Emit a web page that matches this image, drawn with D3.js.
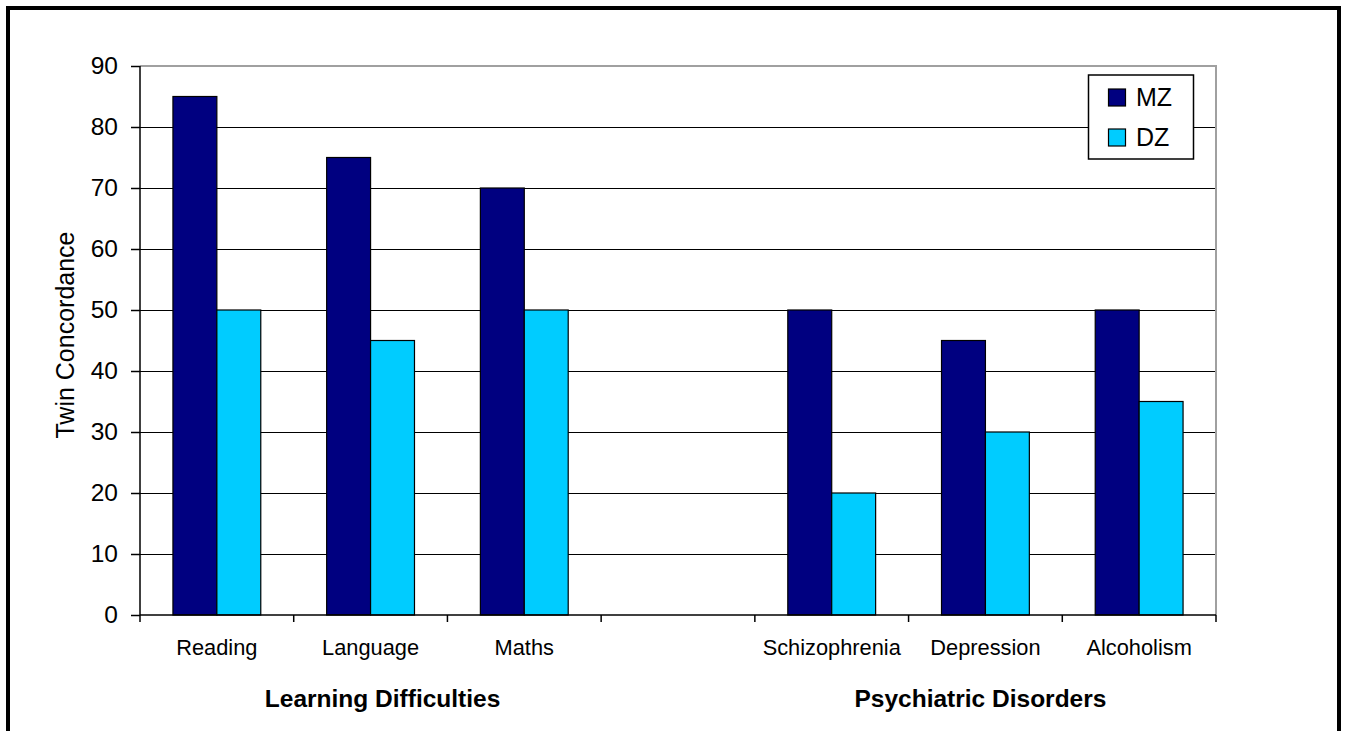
<!DOCTYPE html>
<html>
<head>
<meta charset="utf-8">
<script src="https://cdn.jsdelivr.net/npm/d3@7/dist/d3.min.js"></script>
<style>
  html, body { margin: 0; padding: 0; background: #fff; }
  svg { display: block; font-family: "Liberation Sans", Arial, sans-serif; }
</style>
</head>
<body>
<svg id="chart" width="1347" height="731"></svg>
<script>
const categories = ["Reading", "Language", "Maths", "", "Schizophrenia", "Depression", "Alcoholism"];
const mzValues = [85, 75, 70, null, 50, 45, 50];
const dzValues = [50, 45, 50, null, 20, 30, 35];
const seriesNames = ["MZ", "DZ"];
const yTicks = [0, 10, 20, 30, 40, 50, 60, 70, 80, 90];
const groupLabels = ["Learning Difficulties", "Psychiatric Disorders"];
const groupCenters = ["Language", "Depression"];
const yTitle = "Twin Concordance";

const colors = { MZ: "#000080", DZ: "#00CCFF" };

const svg = d3.select("#chart");
const plotLeft = 140, plotRight = 1216, plotTop = 66, plotBottom = 615;

// outer frame
svg.append("rect").attr("x", 8).attr("y", 8).attr("width", 1331).attr("height", 760)
  .attr("fill", "#fff").attr("stroke", "#000").attr("stroke-width", 4);

const x = d3.scaleBand().domain(categories.map((c, i) => i)).range([plotLeft, plotRight]).paddingInner(0).paddingOuter(0);
const y = d3.scaleLinear().domain([0, 90]).range([plotBottom, plotTop]);

// gridlines
svg.append("g").selectAll("line").data(yTicks.filter(t => t > 0 && t < 90)).join("line")
  .attr("x1", plotLeft).attr("x2", plotRight)
  .attr("y1", d => y(d)).attr("y2", d => y(d))
  .attr("stroke", "#000").attr("stroke-width", 1).attr("shape-rendering", "crispEdges");

// plot area border (top & right gray)
svg.append("path")
  .attr("d", `M${plotLeft},${y(90)}H${plotRight}V${y(0)}`)
  .attr("fill", "none").attr("stroke", "#a0a0a0").attr("stroke-width", 2).attr("shape-rendering", "crispEdges");

// bars
const bw = x.bandwidth() / 3.5;
const sub = d3.scaleBand().domain(seriesNames).range([0, 2 * bw]);
const barData = [];
categories.forEach((c, i) => {
  [mzValues[i], dzValues[i]].forEach((v, j) => {
    if (v != null) barData.push({ i, s: seriesNames[j], v });
  });
});
svg.append("g").selectAll("rect").data(barData).join("rect")
  .attr("x", d => x(d.i) + (x.bandwidth() - 2 * bw) / 2 + sub(d.s))
  .attr("width", sub.bandwidth())
  .attr("y", d => y(d.v))
  .attr("height", d => y(0) - y(d.v))
  .attr("fill", d => colors[d.s])
  .attr("stroke", "#000").attr("stroke-width", 1.2);

// y axis
const yAxis = d3.axisLeft(y).tickValues(yTicks).tickSize(9).tickPadding(13).tickFormat(d3.format("d"));
const gy = svg.append("g").attr("transform", `translate(${plotLeft},0)`).call(yAxis);
gy.select(".domain").attr("stroke", "#000").attr("stroke-width", 1.5).attr("d", `M0,${y(90)}V${y(0)}`);
gy.selectAll(".tick line").attr("stroke", "#000").attr("stroke-width", 1.5);
gy.selectAll(".tick text").attr("font-size", 24.5).attr("fill", "#000").attr("font-family", "Liberation Sans, Arial, sans-serif");

// x axis with ticks at band boundaries
svg.append("line").attr("x1", plotLeft).attr("x2", plotRight).attr("y1", y(0)).attr("y2", y(0))
  .attr("stroke", "#000").attr("stroke-width", 1.5);
const bounds = categories.map((c, i) => x(i)).concat([plotRight]);
svg.append("g").selectAll("line").data(bounds).join("line")
  .attr("x1", d => d).attr("x2", d => d).attr("y1", y(0)).attr("y2", y(0) + 7)
  .attr("stroke", "#000").attr("stroke-width", 1.5);

svg.append("g").selectAll("text").data(categories.map((c, i) => ({ c, i })).filter(d => d.c)).join("text")
  .attr("x", d => x(d.i) + x.bandwidth() / 2).attr("y", 655)
  .attr("text-anchor", "middle").attr("font-size", 21.8).attr("fill", "#000")
  .text(d => d.c);

svg.append("g").selectAll("text").data(groupLabels).join("text")
  .attr("x", (d, k) => x(categories.indexOf(groupCenters[k])) + x.bandwidth() / 2 + (k === 0 ? 12 : -5))
  .attr("y", 707).attr("text-anchor", "middle").attr("font-size", 24.5).attr("font-weight", "bold").attr("fill", "#000")
  .text(d => d);

// y title
svg.append("text").attr("transform", `translate(74,335) rotate(-90)`)
  .attr("text-anchor", "middle").attr("font-size", 25).attr("fill", "#000").text(yTitle);

// legend
const lg = svg.append("g");
lg.append("rect").attr("x", 1088.5).attr("y", 75).attr("width", 105).attr("height", 84)
  .attr("fill", "#fff").attr("stroke", "#000").attr("stroke-width", 1.5);
seriesNames.forEach((s, k) => {
  lg.append("rect").attr("x", 1108.5).attr("y", 89 + k * 40).attr("width", 17).attr("height", 17)
    .attr("fill", colors[s]).attr("stroke", "#000").attr("stroke-width", 1.2);
  lg.append("text").attr("x", 1136).attr("y", 106 + k * 40).attr("font-size", 25).attr("fill", "#000").text(s);
});
</script>
</body>
</html>
